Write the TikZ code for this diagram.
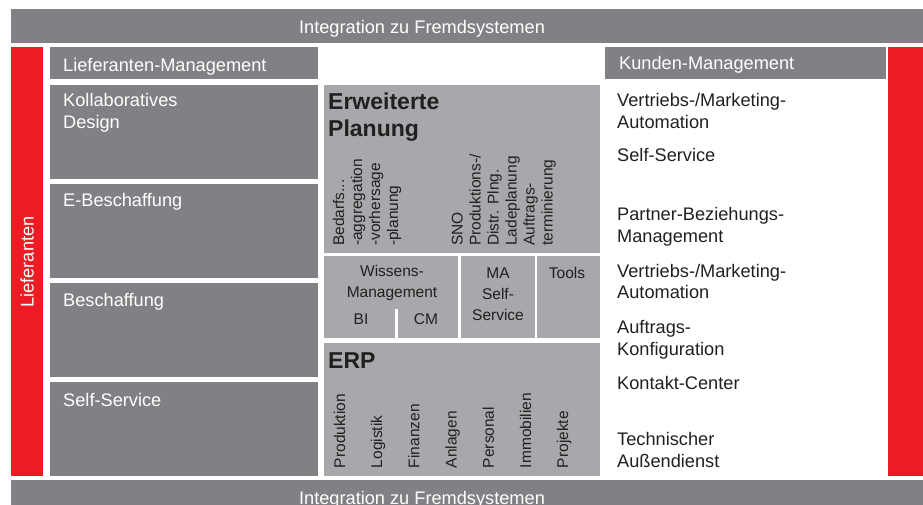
\documentclass[tikz,border=0pt]{standalone}
\usepackage{fontspec}
\setmainfont{Liberation Sans}
\usetikzlibrary{positioning}
\definecolor{darkgrey}{RGB}{128,129,132}
\definecolor{lightgrey}{RGB}{167,168,171}
\definecolor{barred}{RGB}{237,28,36}
\definecolor{inktext}{RGB}{35,31,32}

\begin{document}
\begin{tikzpicture}[x=1pt, y=-1pt,
    lbl/.style={inner sep=0pt, anchor=base west, align=left, font=\fontsize{18.2}{21.7}\selectfont},
    whitelbl/.style={lbl, text=white},
    darklbl/.style={lbl, text=inktext},
    small/.style={inner sep=0pt, text=inktext, font=\fontsize{15.5}{21}\selectfont},
    head/.style={inner sep=0pt, anchor=base west, align=left, text=inktext, font=\fontsize{23}{27.7}\selectfont\bfseries},
    upright/.style={small, rotate=90, anchor=base west, align=left, font=\fontsize{15.5}{18}\selectfont}]
  \useasboundingbox (0,0) rectangle (923,504);

  \fill[darkgrey] (11,9) rectangle (923,43);
  \fill[darkgrey] (11,480) rectangle (923,520);
  \fill[barred] (11,47) rectangle (43,476);
  \fill[barred] (888,47) rectangle (923,476);
  \fill[darkgrey] (50,47) rectangle (318,79);
  \fill[darkgrey] (605,47) rectangle (886,79);
  \fill[darkgrey] (50,85) rectangle (318,179);
  \fill[darkgrey] (50,184) rectangle (318,278);
  \fill[darkgrey] (50,283) rectangle (318,377);
  \fill[darkgrey] (50,382) rectangle (318,476);
  \fill[lightgrey] (324,85) rectangle (600,253);
  \fill[lightgrey] (324,256) rectangle (458,338);
  \fill[lightgrey] (461,256) rectangle (535,338);
  \fill[lightgrey] (537,256) rectangle (600,338);
  \fill[lightgrey] (324,343) rectangle (600,476);
  \fill[white] (395,309) rectangle (398,338);

  \node[whitelbl, anchor=base] (topbar) at (422,33.5) {Integration zu Fremdsystemen};
  \node[whitelbl, anchor=base] (bottombar) at (422,504.5) {Integration zu Fremdsystemen};
  \node[whitelbl, anchor=base, rotate=90] (lief) at (33.5,262) {Lieferanten};

  \node[whitelbl] (liefman) at (63,71) {Lieferanten-Management};
  \node[whitelbl] (kolla) at (63,128) {Kollaboratives\\Design};
  \node[whitelbl] (ebesch) at (63,206.7) {E-Beschaffung};
  \node[whitelbl] (besch) at (63,306.7) {Beschaffung};
  \node[whitelbl] (selfl) at (63,406) {Self-Service};

  \node[whitelbl] (kundman) at (619,69.5) {Kunden-Management};
  \node[darklbl] (vma) at (617,128.2) {Vertriebs-/Marketing-\\Automation};
  \node[darklbl] (selfr) at (617,161.5) {Self-Service};
  \node[darklbl] (pbm) at (617,242) {Partner-Beziehungs-\\Management};
  \node[darklbl] (vmb) at (617,298.7) {Vertriebs-/Marketing-\\Automation};
  \node[darklbl] (auftr) at (617,355.5) {Auftrags-\\Konfiguration};
  \node[darklbl] (kontakt) at (617,389.3) {Kontakt-Center};
  \node[darklbl] (techn) at (617,467.5) {Technischer\\Außendienst};

  \node[head] (erwplan) at (328,136.7) {Erweiterte\\Planung};
  \node[upright] (bedarf) at (398,246) {Bedarfs...\\-aggregation\\-vorhersage\\-planung};
  \node[upright] (sno) at (552.7,246) {SNO\\Produktions-/\\Distr. Plng.\\Ladeplanung\\Auftrags-\\terminierung};

  \node[small, anchor=base, align=center] (wissen) at (392,297.3) {Wissens-\\Management};
  \node[small, anchor=base] (bi) at (361,324) {BI};
  \node[small, anchor=base] (cm) at (426,324) {CM};
  \node[small, anchor=base, align=center] (ma) at (498,320.7) {MA\\Self-\\Service};
  \node[small, anchor=base] (tools) at (567,278.3) {Tools};

  \node[head] (erp) at (328,368.3) {ERP};
  \foreach \modul [count=\i] in {Produktion,Logistik,Finanzen,Anlagen,Personal,Immobilien,Projekte}
    \node[upright] (erp\i) at ({345+37.2*(\i-1)},468.3) {\modul};
\end{tikzpicture}
\end{document}
